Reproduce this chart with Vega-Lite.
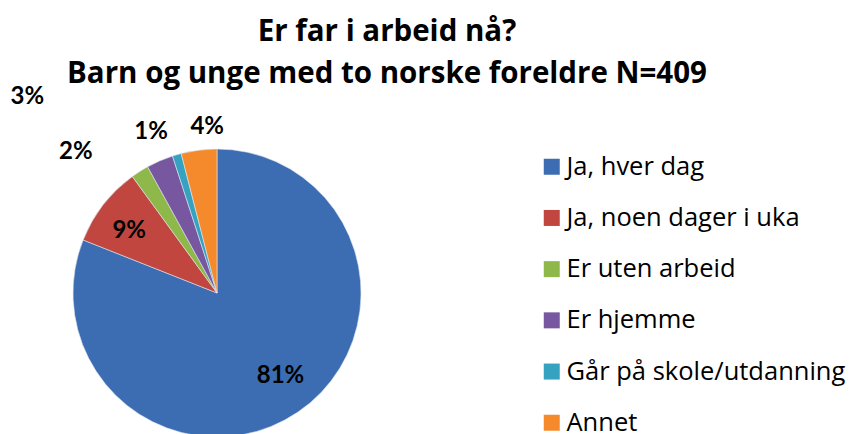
{
  "$schema": "https://vega.github.io/schema/vega-lite/v6.json",
  "width": 288,
  "height": 288,
  "autosize": "none",
  "padding": {"left": 73, "top": 149, "right": 490, "bottom": 0},
  "background": "white",
  "title": {
    "text": ["Er far i arbeid nå?", "Barn og unge med to norske foreldre N=409"],
    "font": "Open Sans",
    "fontSize": 29.5,
    "fontWeight": "bold",
    "lineHeight": 42,
    "color": "black",
    "anchor": "middle",
    "frame": "group",
    "dx": 170,
    "dy": 27,
    "offset": 3
  },
  "data": {
    "values": [
      {"kat": "Ja, hver dag", "k": 1, "pct": 81, "label": "81%"},
      {"kat": "Ja, noen dager i uka", "k": 2, "pct": 9, "label": "9%"},
      {"kat": "Er uten arbeid", "k": 3, "pct": 2, "label": "2%"},
      {"kat": "Er hjemme", "k": 4, "pct": 3, "label": "3%"},
      {"kat": "Går på skole/utdanning", "k": 5, "pct": 1, "label": "1%"},
      {"kat": "Annet", "k": 6, "pct": 4, "label": "4%"}
    ]
  },
  "encoding": {
    "theta": {"field": "pct", "type": "quantitative", "stack": true},
    "order": {"field": "k", "type": "quantitative"}
  },
  "layer": [
    {
      "mark": {"type": "arc", "stroke": "#dfe6f0", "strokeWidth": 0.6},
      "encoding": {
        "color": {
          "field": "kat",
          "type": "nominal",
          "sort": ["Ja, hver dag", "Ja, noen dager i uka", "Er uten arbeid", "Er hjemme", "Går på skole/utdanning", "Annet"],
          "scale": {
            "domain": ["Ja, hver dag", "Ja, noen dager i uka", "Er uten arbeid", "Er hjemme", "Går på skole/utdanning", "Annet"],
            "range": ["#3c6cb2", "#c0463f", "#8fb84a", "#7657a0", "#35a3c0", "#f48a2c"]
          },
          "legend": {
            "orient": "none",
            "legendX": 466,
            "legendY": 5,
            "title": null,
            "padding": 0,
            "symbolType": "square",
            "symbolSize": 256,
            "symbolStrokeWidth": 0,
            "labelFont": "Open Sans",
            "labelFontSize": 25.5,
            "labelColor": "black",
            "labelOffset": 2,
            "labelLimit": 400,
            "rowPadding": 24.2
          }
        }
      }
    },
    {
      "mark": {"type": "text", "radius": 104, "font": "Lato", "fontSize": 24, "fontWeight": "bold", "color": "black", "align": "center", "baseline": "middle", "dx": 5, "dy": -3},
      "encoding": {"text": {"condition": {"test": "datum.k === 1", "field": "label"}, "value": ""}}
    },
    {
      "mark": {"type": "text", "radius": 106, "font": "Lato", "fontSize": 24, "fontWeight": "bold", "color": "black", "align": "center", "baseline": "middle", "dx": -4, "dy": 3},
      "encoding": {"text": {"condition": {"test": "datum.k === 2", "field": "label"}, "value": ""}}
    },
    {
      "mark": {"type": "text", "radius": 200, "font": "Lato", "fontSize": 24, "fontWeight": "bold", "color": "black", "align": "center", "baseline": "middle", "dx": -34, "dy": 28},
      "encoding": {"text": {"condition": {"test": "datum.k === 3", "field": "label"}, "value": ""}}
    },
    {
      "mark": {"type": "text", "radius": 271, "font": "Lato", "fontSize": 24, "fontWeight": "bold", "color": "black", "align": "center", "baseline": "middle", "dx": -82, "dy": 53},
      "encoding": {"text": {"condition": {"test": "datum.k === 4", "field": "label"}, "value": ""}}
    },
    {
      "mark": {"type": "text", "radius": 172, "font": "Lato", "fontSize": 24, "fontWeight": "bold", "color": "black", "align": "center", "baseline": "middle", "dx": -18, "dy": 4},
      "encoding": {"text": {"condition": {"test": "datum.k === 5", "field": "label"}, "value": ""}}
    },
    {
      "mark": {"type": "text", "radius": 166, "font": "Lato", "fontSize": 24, "fontWeight": "bold", "color": "black", "align": "center", "baseline": "middle", "dx": 11, "dy": -1},
      "encoding": {"text": {"condition": {"test": "datum.k === 6", "field": "label"}, "value": ""}}
    }
  ]
}
